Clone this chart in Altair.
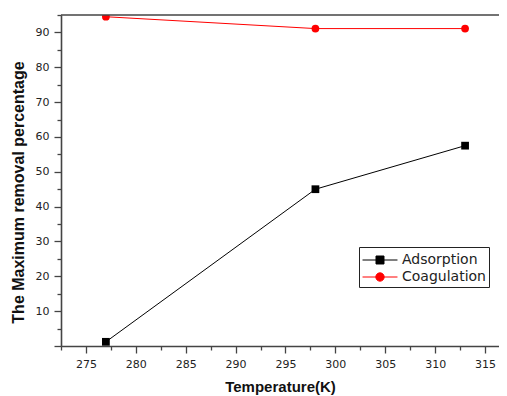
import altair as alt
import pandas as pd

temps = [277, 298, 313]
adsorption = [1.2, 45.0, 57.5]
coagulation = [94.5, 91.1, 91.1]
series_names = ["Adsorption", "Coagulation"]
series_colors = ["#000000", "#ff0000"]
point_shapes = ["square", "circle"]

x_ticks = [272.5, 275, 277.5, 280, 282.5, 285, 287.5, 290, 292.5, 295,
           297.5, 300, 302.5, 305, 307.5, 310, 312.5, 315]
y_ticks = [0, 5, 10, 15, 20, 25, 30, 35, 40, 45, 50, 55, 60, 65, 70, 75, 80, 85, 90, 95]

df = pd.DataFrame({
    "Temperature": temps * 2,
    "Value": adsorption + coagulation,
    "Series": [series_names[0]] * len(temps) + [series_names[1]] * len(temps),
})

sq_path = "M-1.84,0H1.84M-0.42,-0.42H0.42V0.42H-0.42Z"
ci_path = "M-1.84,0H1.84M-0.44,0A0.44,0.44,0,1,0,0.44,0A0.44,0.44,0,1,0,-0.44,0Z"
legend_paths = [sq_path, ci_path]

W, H = 438, 331
AXIS_COLOR = "#444444"


def make_legend():
    return alt.Legend(
        title=None, orient="none", legendX=298, legendY=232,
        strokeColor="#222222", fillColor="white", padding=3,
        symbolSize=361, symbolStrokeWidth=1, symbolOpacity=1,
        symbolOffset=8, labelOffset=12,
        labelFont="DejaVu Sans", labelFontSize=14, labelColor="#222222",
        rowPadding=0,
    )


x_axis = alt.Axis(
    values=x_ticks, title="Temperature(K)",
    labelExpr="datum.value % 5 === 0 ? format(datum.value, 'd') : ''",
    tickSize={"condition": {"test": "datum.value % 5 === 0", "value": 7}, "value": 4},
    labelPadding=5, grid=False,
    titleFont="Liberation Sans", titleFontSize=15, titleFontWeight="bold",
    titleY=40, titleBaseline="middle", titleColor="#111111",
)
y_axis = alt.Axis(
    values=y_ticks, title="The Maximum removal percentage",
    labelExpr="datum.value % 10 === 0 && datum.value > 0 ? format(datum.value, 'd') : ''",
    tickSize={"condition": {"test": "datum.value % 10 === 0", "value": 7}, "value": 4},
    labelPadding=5, grid=False,
    titleFont="Liberation Sans", titleFontSize=16, titleFontWeight="bold",
    titleX=-43, titleY=177, titleAngle=270, titleAlign="center",
    titleBaseline="middle", titleColor="#111111",
)

x_enc = alt.X("Temperature:Q", scale=alt.Scale(domain=[272.5, 316.4], nice=False, zero=False), axis=x_axis)
y_enc = alt.Y("Value:Q", scale=alt.Scale(domain=[0, 95], nice=False), axis=y_axis)
color_scale = alt.Scale(domain=series_names, range=series_colors)

lines = alt.Chart(df).mark_line(strokeWidth=1, clip=True).encode(
    x=x_enc, y=y_enc,
    color=alt.Color("Series:N", scale=color_scale, legend=None),
    detail="Series:N",
)
points = alt.Chart(df).mark_point(filled=True, opacity=1, size=60, clip=True).encode(
    x=x_enc, y=y_enc,
    color=alt.Color("Series:N", scale=color_scale, legend=None),
    shape=alt.Shape("Series:N", scale=alt.Scale(domain=series_names, range=point_shapes), legend=None),
)
legend_layer = alt.Chart(df).mark_point(filled=True, opacity=0, clip=True).encode(
    x=x_enc, y=y_enc,
    color=alt.Color("Series:N", scale=color_scale, legend=make_legend()),
    stroke=alt.Stroke("Series:N", scale=alt.Scale(domain=series_names, range=series_colors), legend=make_legend()),
    shape=alt.Shape("Series:N", scale=alt.Scale(domain=series_names, range=legend_paths), legend=make_legend()),
)
top_border = alt.Chart(pd.DataFrame({"edge": [0]})).mark_rule(
    color=AXIS_COLOR, strokeWidth=1.6
).encode(x=alt.value(0), x2=alt.value(W), y=alt.value(0))

chart = alt.layer(lines, points, legend_layer, top_border).resolve_scale(
    shape="independent"
).resolve_legend(
    color="independent", shape="independent", stroke="independent"
).properties(
    width=W, height=H,
    autosize=alt.AutoSizeParams(type="none"),
    padding={"left": 53, "top": 7, "right": 0, "bottom": 50},
).configure_view(
    stroke=None
).configure_axis(
    domainColor=AXIS_COLOR, domainWidth=1.6, tickColor=AXIS_COLOR, tickWidth=1.3,
    labelFont="DejaVu Sans", labelFontSize=11, labelColor="#222222",
)

chart.save("out.html", embed_options={"renderer": "svg", "actions": False})
